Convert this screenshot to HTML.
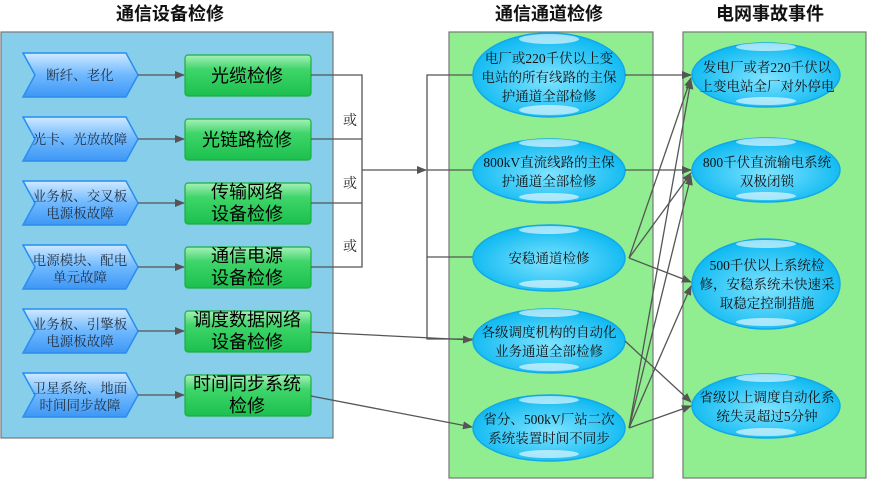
<!DOCTYPE html>
<html><head><meta charset="utf-8"><style>
html,body{margin:0;padding:0;background:#fff;}
svg{display:block;}
.t{font-family:"Liberation Sans","Noto Sans CJK SC",sans-serif;font-weight:bold;font-size:18px;fill:#111;text-anchor:middle;}
.c{font-family:"Liberation Serif","Noto Serif CJK SC",serif;font-size:13.5px;fill:#234;text-anchor:middle;}
.g{font-family:"Liberation Sans","Noto Sans CJK SC",sans-serif;font-size:18px;fill:#000;text-anchor:middle;}
.e{font-family:"Liberation Serif","Noto Serif CJK SC",serif;font-size:13.5px;fill:#111;text-anchor:middle;}
.o{font-family:"Liberation Serif","Noto Serif CJK SC",serif;font-size:14px;fill:#222;text-anchor:middle;}
.l{stroke:#555;stroke-width:1.3;fill:none;}
</style></head><body>
<svg width="869" height="487" viewBox="0 0 869 487" xmlns="http://www.w3.org/2000/svg">
<defs>
<linearGradient id="cb" x1="0" y1="0" x2="0" y2="1"><stop offset="0" stop-color="#cfe9ff"/><stop offset="0.5" stop-color="#6fb8ff"/><stop offset="1" stop-color="#3d97f5"/></linearGradient>
<linearGradient id="gb" x1="0" y1="0" x2="0" y2="1"><stop offset="0" stop-color="#a8f0b8"/><stop offset="0.35" stop-color="#3fd56a"/><stop offset="1" stop-color="#1cc04e"/></linearGradient>
<radialGradient id="eb" cx="0.5" cy="0.55" r="0.6"><stop offset="0" stop-color="#7fe3ff"/><stop offset="1" stop-color="#00b4f0"/></radialGradient>
<marker id="a" markerWidth="10" markerHeight="8" refX="9" refY="4" orient="auto" markerUnits="userSpaceOnUse"><path d="M0,0 L10,4 L0,8 z" fill="#555"/></marker>
</defs>
<text class="t" x="170" y="20">通信设备检修</text>
<text class="t" x="549" y="20">通信通道检修</text>
<text class="t" x="770" y="20">电网事故事件</text>
<rect x="1" y="32" width="332" height="406" fill="#87ceeb" stroke="#777" stroke-width="1.2"/>
<rect x="449" y="32" width="204" height="446" fill="#90ee90" stroke="#777" stroke-width="1.2"/>
<rect x="683" y="32" width="183" height="446" fill="#90ee90" stroke="#777" stroke-width="1.2"/>

<g>
<path d="M23,53 H126 L138,75 L126,97 H23 L35,75 Z" fill="url(#cb)" stroke="#2a8cf0" stroke-width="1.5"/>
<path d="M23,117 H126 L138,139 L126,161 H23 L35,139 Z" fill="url(#cb)" stroke="#2a8cf0" stroke-width="1.5"/>
<path d="M23,181 H126 L138,203 L126,225 H23 L35,203 Z" fill="url(#cb)" stroke="#2a8cf0" stroke-width="1.5"/>
<path d="M23,245 H126 L138,267 L126,289 H23 L35,267 Z" fill="url(#cb)" stroke="#2a8cf0" stroke-width="1.5"/>
<path d="M23,309 H126 L138,331 L126,353 H23 L35,331 Z" fill="url(#cb)" stroke="#2a8cf0" stroke-width="1.5"/>
<path d="M23,373 H126 L138,395 L126,417 H23 L35,395 Z" fill="url(#cb)" stroke="#2a8cf0" stroke-width="1.5"/>
</g>
<text class="c" x="80" y="80">断纤、老化</text>
<text class="c" x="80" y="144">光卡、光放故障</text>
<text class="c" x="80" y="201">业务板、交叉板</text><text class="c" x="80" y="218">电源板故障</text>
<text class="c" x="80" y="265">电源模块、配电</text><text class="c" x="80" y="282">单元故障</text>
<text class="c" x="80" y="329">业务板、引擎板</text><text class="c" x="80" y="346">电源板故障</text>
<text class="c" x="80" y="393">卫星系统、地面</text><text class="c" x="80" y="410">时间同步故障</text>
<g class="l">
<line x1="138" y1="75" x2="184" y2="75" marker-end="url(#a)"/>
<line x1="138" y1="139" x2="184" y2="139" marker-end="url(#a)"/>
<line x1="138" y1="203" x2="184" y2="203" marker-end="url(#a)"/>
<line x1="138" y1="267" x2="184" y2="267" marker-end="url(#a)"/>
<line x1="138" y1="331" x2="184" y2="331" marker-end="url(#a)"/>
<line x1="138" y1="395" x2="184" y2="395" marker-end="url(#a)"/>
</g>
<g fill="url(#gb)" stroke="#18b040" stroke-width="1.2">
<rect x="185" y="55" width="126" height="41" rx="3"/>
<rect x="185" y="119" width="126" height="41" rx="3"/>
<rect x="185" y="183" width="126" height="41" rx="3"/>
<rect x="185" y="247" width="126" height="41" rx="3"/>
<rect x="185" y="311" width="126" height="41" rx="3"/>
<rect x="185" y="375" width="126" height="41" rx="3"/>
</g>
<text class="g" x="247" y="82">光缆检修</text>
<text class="g" x="247" y="146">光链路检修</text>
<text class="g" x="247" y="198">传输网络</text><text class="g" x="247" y="220">设备检修</text>
<text class="g" x="247" y="262">通信电源</text><text class="g" x="247" y="284">设备检修</text>
<text class="g" x="247" y="326">调度数据网络</text><text class="g" x="247" y="348">设备检修</text>
<text class="g" x="247" y="390">时间同步系统</text><text class="g" x="247" y="412">检修</text>

<g class="l">
<polyline points="311,75 362,75 362,267 311,267"/>
<line x1="311" y1="139" x2="362" y2="139"/>
<line x1="311" y1="203" x2="362" y2="203"/>
<line x1="362" y1="170" x2="426" y2="170" marker-end="url(#a)"/>
<polyline points="473,75 427,75 427,339 473,339"/>
<line x1="427" y1="170" x2="473" y2="170"/>
<line x1="427" y1="257" x2="473" y2="257"/>
<line x1="311" y1="332" x2="472" y2="340" marker-end="url(#a)"/>
<line x1="311" y1="396" x2="472" y2="427" marker-end="url(#a)"/>
</g>
<text class="o" x="350" y="125">或</text>
<text class="o" x="350" y="188">或</text>
<text class="o" x="350" y="251">或</text>

<g fill="url(#eb)" stroke="#12a8e8" stroke-width="1.5">
<ellipse cx="549" cy="75" rx="76" ry="42"/>
<ellipse cx="549" cy="171" rx="76" ry="32"/>
<ellipse cx="549" cy="258" rx="76" ry="33"/>
<ellipse cx="549" cy="341" rx="76" ry="32"/>
<ellipse cx="549" cy="428" rx="76" ry="33"/>
<ellipse cx="766" cy="75" rx="74" ry="32"/>
<ellipse cx="766" cy="170" rx="74" ry="32"/>
<ellipse cx="766" cy="284" rx="74" ry="45"/>
<ellipse cx="766" cy="406" rx="74" ry="32"/>
</g>
<g fill="#fff" opacity="0.6">
<ellipse cx="549" cy="39" rx="30" ry="5"/><ellipse cx="549" cy="110" rx="30" ry="5"/>
<ellipse cx="549" cy="143" rx="30" ry="4"/><ellipse cx="549" cy="197" rx="30" ry="4"/>
<ellipse cx="549" cy="230" rx="30" ry="4"/><ellipse cx="549" cy="284" rx="30" ry="4"/>
<ellipse cx="549" cy="313" rx="30" ry="4"/><ellipse cx="549" cy="367" rx="30" ry="4"/>
<ellipse cx="549" cy="400" rx="30" ry="4"/><ellipse cx="549" cy="454" rx="30" ry="4"/>
<ellipse cx="766" cy="47" rx="30" ry="4"/><ellipse cx="766" cy="101" rx="30" ry="4"/>
<ellipse cx="766" cy="142" rx="30" ry="4"/><ellipse cx="766" cy="196" rx="30" ry="4"/>
<ellipse cx="766" cy="244" rx="30" ry="4"/><ellipse cx="766" cy="322" rx="30" ry="4"/>
<ellipse cx="766" cy="378" rx="30" ry="4"/><ellipse cx="766" cy="432" rx="30" ry="4"/>
</g>
<text class="e" x="549" y="63">电厂或220千伏以上变</text>
<text class="e" x="549" y="82">电站的所有线路的主保</text>
<text class="e" x="549" y="101">护通道全部检修</text>
<text class="e" x="549" y="167">800kV直流线路的主保</text>
<text class="e" x="549" y="186">护通道全部检修</text>
<text class="e" x="549" y="263">安稳通道检修</text>
<text class="e" x="549" y="337">各级调度机构的自动化</text>
<text class="e" x="549" y="356">业务通道全部检修</text>
<text class="e" x="549" y="424">省分、500kV厂站二次</text>
<text class="e" x="549" y="443">系统装置时间不同步</text>
<text class="e" x="767" y="72">发电厂或者220千伏以</text>
<text class="e" x="767" y="91">上变电站全厂对外停电</text>
<text class="e" x="767" y="167">800千伏直流输电系统</text>
<text class="e" x="767" y="186">双极闭锁</text>
<text class="e" x="767" y="270">500千伏以上系统检</text>
<text class="e" x="767" y="289">修，安稳系统未快速采</text>
<text class="e" x="767" y="308">取稳定控制措施</text>
<text class="e" x="767" y="402">省级以上调度自动化系</text>
<text class="e" x="767" y="421">统失灵超过5分钟</text>

<g class="l">
<line x1="625" y1="75" x2="691" y2="75" marker-end="url(#a)"/>
<line x1="625" y1="170" x2="691" y2="170" marker-end="url(#a)"/>
<line x1="629" y1="258" x2="691" y2="78" marker-end="url(#a)"/>
<line x1="629" y1="258" x2="691" y2="173" marker-end="url(#a)"/>
<line x1="629" y1="258" x2="691" y2="282" marker-end="url(#a)"/>
<line x1="625" y1="341" x2="691" y2="402" marker-end="url(#a)"/>
<line x1="629" y1="428" x2="691" y2="80" marker-end="url(#a)"/>
<line x1="629" y1="428" x2="691" y2="176" marker-end="url(#a)"/>
<line x1="629" y1="428" x2="691" y2="286" marker-end="url(#a)"/>
<line x1="629" y1="428" x2="691" y2="406" marker-end="url(#a)"/>
</g>
</svg>
</body></html>
